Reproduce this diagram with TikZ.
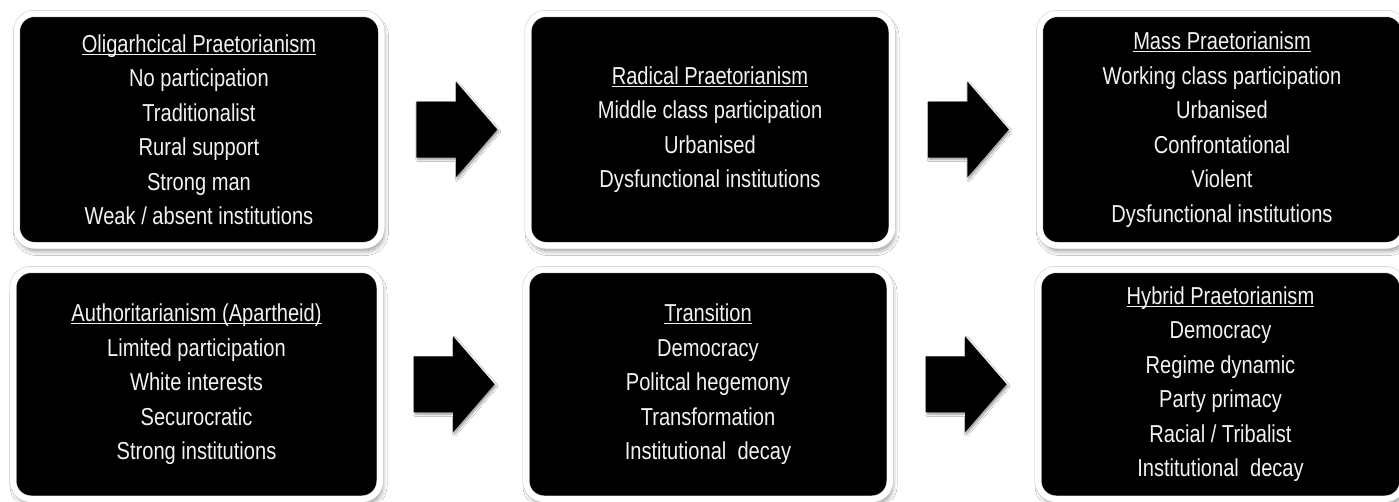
\documentclass[tikz,border=0pt]{standalone}
\usepackage{fontspec}
\setmainfont[FakeStretch=0.82]{Liberation Sans}
\usetikzlibrary{shadows.blur,calc}

% heading line of each panel, underlined just below the baseline
\newsavebox{\headbox}
\newcommand{\panelhead}[1]{\sbox{\headbox}{#1}%
  \rlap{\rule[-2.8pt]{\wd\headbox}{1.2pt}}\usebox{\headbox}}

\tikzset{
  panel/.style={
    rectangle, rounded corners=18, fill=black,
    draw=black!22, double=white, double distance=6pt, line width=0.5pt,
    text=white!95!black, align=center, inner sep=0pt,
    minimum width=365, minimum height=232,
    font=\fontsize{24.5}{34.5}\selectfont,
    blur shadow={shadow xshift=2pt, shadow yshift=-5pt,
                 shadow blur radius=5pt, shadow blur steps=12, shadow opacity=45}
  },
  arrowfill/.style={fill=black,
    blur shadow={shadow xshift=1.5pt, shadow yshift=-2pt,
                 shadow blur radius=2pt, shadow blur steps=6, shadow opacity=40}},
  blockarrow/.pic={
    \fill[arrowfill] (-40.5,-28) -- (-1,-28) -- (-1,-48) -- (40.5,0)
       -- (-1,48) -- (-1,28) -- (-40.5,28) -- cycle;
  }
}

\begin{document}
\begin{tikzpicture}[x=1pt, y=-1pt]
\useasboundingbox[fill=white] (0,0) rectangle (1399,501);

% upper row
\node[panel] (oligarchic) at (199,129.5) {\panelhead{Oligarhcical Praetorianism}\\
  No participation\\ Traditionalist\\ Rural support\\ Strong man\\ Weak / absent institutions};
\node[panel, minimum width=364] (radical) at (710,129.5) {\panelhead{Radical Praetorianism}\\
  Middle class participation\\ Urbanised\\ Dysfunctional institutions};
\node[panel] (mass) at (1222,129.5) {\panelhead{Mass Praetorianism}\\
  Working class participation\\ Urbanised\\ Confrontational\\ Violent\\ Dysfunctional institutions};

% lower row
\node[panel, minimum width=367, minimum height=229.5] (authoritarian) at (196.5,384.25)
  {\panelhead{Authoritarianism (Apartheid)}\\
  Limited participation\\ White interests\\ Securocratic\\ Strong institutions};
\node[panel, minimum width=364, minimum height=229.5] (transition) at (708,384.25)
  {\panelhead{Transition}\\
  Democracy\\ Politcal hegemony\\ Transformation\\ Institutional\ \ decay};
\node[panel, minimum width=365, minimum height=229.5] (hybrid) at (1220.5,384.25)
  {\panelhead{Hybrid Praetorianism}\\
  Democracy\\ Regime dynamic\\ Party\ primacy\\ Racial / Tribalist\\ Institutional\ \ decay};

% block arrows between the panels
\pic at ($(oligarchic.east)!0.5!(radical.west)+(2,0)$) {blockarrow};
\pic at ($(radical.east)!0.5!(mass.west)+(2.5,0)$) {blockarrow};
\pic at ($(authoritarian.east)!0.5!(transition.west)+(1,0)$) {blockarrow};
\pic at ($(transition.east)!0.5!(hybrid.west)+(2,0)$) {blockarrow};
\end{tikzpicture}
\end{document}
